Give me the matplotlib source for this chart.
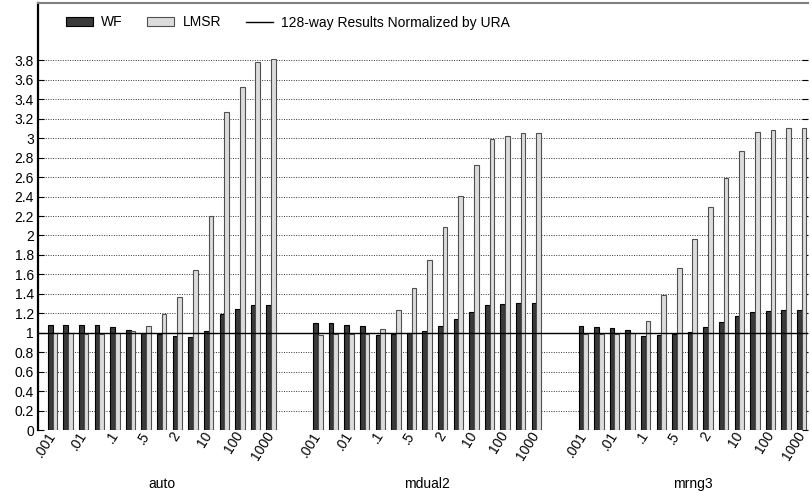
import matplotlib
matplotlib.use("Agg")
import matplotlib.pyplot as plt
from matplotlib.lines import Line2D
from matplotlib.patches import Patch
from matplotlib.transforms import ScaledTranslation
import numpy as np

plt.rcParams['font.family'] = ['Liberation Sans', 'DejaVu Sans']

groups = ["auto", "mdual2", "mrng3"]
tick_labels = [".001", ".01", ".1", ".5", "2", "10", "100", "1000"]

wf_auto = [1.083, 1.083, 1.08, 1.076, 1.056, 1.025, 1.0, 0.99, 0.971, 0.958, 1.015, 1.197, 1.24, 1.285, 1.29]
lmsr_auto = [1.0, 1.0, 0.99, 0.99, 1.0, 1.02, 1.07, 1.19, 1.366, 1.64, 2.2, 3.27, 3.53, 3.78, 3.81]

wf_mdual2 = [1.098, 1.098, 1.081, 1.068, 0.98, 0.99, 1.0, 1.02, 1.074, 1.142, 1.216, 1.29, 1.297, 1.304, 1.304]
lmsr_mdual2 = [0.98, 0.987, 0.987, 0.987, 1.04, 1.233, 1.463, 1.747, 2.084, 2.405, 2.72, 2.99, 3.02, 3.05, 3.05]

wf_mrng3 = [1.068, 1.064, 1.05, 1.03, 0.963, 0.98, 0.99, 1.007, 1.054, 1.108, 1.172, 1.213, 1.223, 1.23, 1.23]
lmsr_mrng3 = [0.99, 0.99, 0.99, 1.0, 1.118, 1.392, 1.662, 1.963, 2.294, 2.59, 2.87, 3.06, 3.08, 3.10, 3.10]

wf_all = [wf_auto, wf_mdual2, wf_mrng3]
lmsr_all = [lmsr_auto, lmsr_mdual2, lmsr_mrng3]

W, H = 811, 492
fig = plt.figure(figsize=(W / 100, H / 100), dpi=100)
ax = fig.add_axes([38 / W, (H - 430) / H, (808 - 38) / W, (430 - 3) / H])

FS = 10
n = len(wf_auto)
gap = 2
bw = 0.3
tick_pos = []
tick_txt = []
group_centers = []
for gi in range(len(groups)):
    base = gi * (n + gap)
    x = base + np.arange(n)
    ax.bar(x - bw / 2, wf_all[gi], width=bw, color='#3a3a3a', edgecolor='black', linewidth=0.8, zorder=3)
    ax.bar(x + bw / 2, lmsr_all[gi], width=bw, color='#dcdcdc', edgecolor='#505050', linewidth=0.8, zorder=3)
    for k, lab in enumerate(tick_labels):
        tick_pos.append(base + 2 * k)
        tick_txt.append(lab)
    group_centers.append(base + (n - 1) / 2)

ax.axhline(1.0, color='black', linewidth=1.0, zorder=4)

ax.set_xlim(-0.93, 48.4)
ax.set_ylim(0, 4.39)
yt = np.round(np.arange(0, 3.81, 0.2), 1)
ax.set_yticks(yt)
ax.set_yticklabels([("%g" % v) for v in yt], fontsize=FS)
ax.yaxis.grid(True, linestyle=(0, (1, 1.5)), color='#333333', linewidth=0.7, zorder=0)
ax.tick_params(axis='y', direction='in', length=4, left=True, right=True, width=0.8, pad=3)

ax.set_xticks(tick_pos)
ax.set_xticklabels(tick_txt, rotation=58, ha='right', va='top', rotation_mode='anchor', fontsize=FS)
ax.tick_params(axis='x', length=0, pad=0)
shift = ScaledTranslation(-0.06, 0.01, fig.dpi_scale_trans)
for lab in ax.get_xticklabels():
    lab.set_transform(lab.get_transform() + shift)

for gi, g in enumerate(groups):
    ax.text(group_centers[gi], -(484 - 430) / 97.3, g, fontsize=FS, ha='center', va='center', clip_on=False)

ax.spines['right'].set_visible(False)
ax.spines['bottom'].set_visible(False)
ax.spines['left'].set_linewidth(1.6)
ax.spines['top'].set_color('#808080')
ax.spines['top'].set_linewidth(1.5)

handles = [Patch(facecolor='#3a3a3a', edgecolor='black', linewidth=0.8),
           Patch(facecolor='#dcdcdc', edgecolor='#505050', linewidth=0.8),
           Line2D([0], [0], color='black', linewidth=1.0)]
ax.legend(handles, ["WF", "LMSR", "128-way Results Normalized by URA"], loc='upper left',
          bbox_to_anchor=(0.0195, 1.0), ncol=3, frameon=False, fontsize=FS,
          handlelength=1.95, handleheight=0.55, columnspacing=1.8, handletextpad=0.58)

fig.savefig("out.png", dpi=100)
